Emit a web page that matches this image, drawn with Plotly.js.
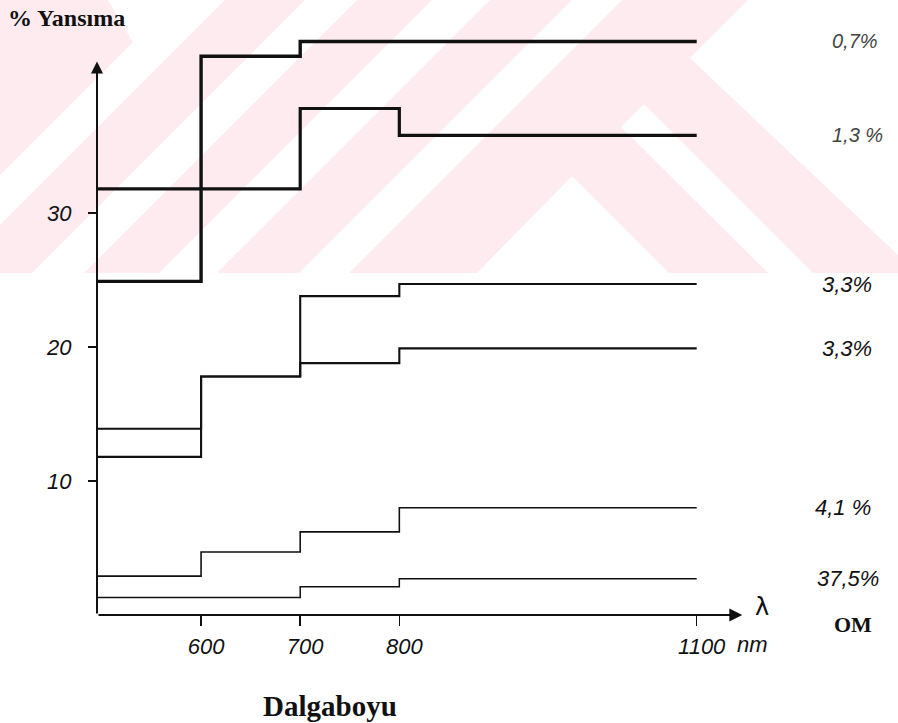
<!DOCTYPE html>
<html>
<head>
<meta charset="utf-8">
<script src="https://cdn.plot.ly/plotly-3.0.1.min.js"></script>
<style>html,body{margin:0;padding:0;background:#fff;}#chart{width:898px;height:723px;}</style>
</head>
<body>
<div id="chart"></div>
<script>
// ---- data ----
const wl07 = [495, 600, 700, 1100];
const r07  = [24.9, 41.7, 42.8, 42.8];
const wl13 = [495, 700, 800, 1100];
const r13  = [31.8, 37.8, 35.8, 35.8];
const wl33a = [495, 600, 700, 800, 1100];
const r33a  = [13.9, 17.8, 23.8, 24.7, 24.7];
const wl33b = [495, 600, 700, 800, 1100];
const r33b  = [11.8, 17.8, 18.8, 19.9, 19.9];
const wl41 = [495, 600, 700, 800, 1100];
const r41  = [2.9, 4.7, 6.2, 8.0, 8.0];
const wl375 = [495, 700, 800, 1100];
const r375  = [1.3, 2.1, 2.7, 2.7];
const seriesLabels = ['0,7%', '1,3 %', '3,3%', '3,3%', '4,1 %', '37,5%'];
const xTickVals = [600, 700, 800, 1100];
const xTickText = ['600', '700', '800', '1100'];
const yTickVals = [10, 20, 30];
const yTickText = ['10', '20', '30'];
const xAxisStart = 495, xAxisEnd = 1146, yAxisTop = 41.3;

// ---- styles ----
const seriesX = [wl07, wl13, wl33a, wl33b, wl41, wl375];
const seriesY = [r07, r13, r33a, r33b, r41, r375];
const lineWidths = [3.4, 3.2, 2.1, 2.1, 1.6, 1.5];
const labelPx = [830, 830, 820, 820, 813, 815];
const labelSize = [20, 20, 22, 22, 22, 22];
const labelColor = ['#444', '#444', '#111', '#111', '#111', '#111'];

const L = 97, W = 679, B = 615, H = 603;
function pp(x, y) { return [(x - L) / W, (B - y) / H]; }
function poly(pts) {
  return 'M' + pts.map(p => { const q = pp(p[0], p[1]); return q[0].toFixed(4) + ',' + q[1].toFixed(4); }).join(' L') + ' Z';
}

const traces = seriesX.map((xs, i) => ({
  x: xs, y: seriesY[i], type: 'scatter', mode: 'lines',
  line: {shape: 'hv', color: '#111', width: lineWidths[i]},
  hoverinfo: 'skip', showlegend: false
}));

const pink = 'rgb(253,235,239)';
const shapes = [
  {type: 'path', path: poly([[0,0],[898,0],[898,273],[0,273]]), fillcolor: pink},
  {type: 'path', path: poly([[108,0],[175,0],[150,72]]), fillcolor: '#fff'},
  {type: 'path', path: poly([[175,0],[225,0],[0,225],[0,175]]), fillcolor: '#fff'},
  {type: 'path', path: poly([[305,0],[357,0],[84,273],[32,273]]), fillcolor: '#fff'},
  {type: 'path', path: poly([[432,0],[490,0],[217,273],[159,273]]), fillcolor: '#fff'},
  {type: 'path', path: poly([[572,0],[622,0],[349,273],[299,273]]), fillcolor: '#fff'},
  {type: 'path', path: poly([[748,0],[898,0],[898,255],[690,58]]), fillcolor: '#fff'},
  {type: 'path', path: poly([[644,104],[813,273],[768,273],[621,127]]), fillcolor: '#fff'},
  {type: 'path', path: poly([[572,176],[669,273],[477,273]]), fillcolor: '#fff'}
].map(s => Object.assign(s, {xref: 'paper', yref: 'paper', layer: 'below', line: {width: 0}}));

const annotations = [];
// axis arrows
annotations.push({x: xAxisEnd, y: 0, ax: xAxisStart, ay: 0, xref: 'x', yref: 'y', axref: 'x', ayref: 'y',
  text: '', showarrow: true, arrowhead: 2, arrowsize: 1.3, arrowwidth: 2, arrowcolor: '#111', standoff: 0, startstandoff: 0});
annotations.push({x: xAxisStart, y: yAxisTop, ax: xAxisStart, ay: 0, xref: 'x', yref: 'y', axref: 'x', ayref: 'y',
  text: '', showarrow: true, arrowhead: 2, arrowsize: 1.2, arrowwidth: 2, arrowcolor: '#111', standoff: 0, startstandoff: 0});
// series labels
seriesLabels.forEach((t, i) => {
  const ys = seriesY[i];
  annotations.push({x: pp(labelPx[i], 0)[0], y: ys[ys.length - 1], xref: 'paper', yref: 'y',
    xanchor: 'left', yanchor: 'middle', text: t, showarrow: false,
    font: {family: 'Liberation Sans', size: labelSize[i], color: labelColor[i], style: 'italic'}});
});
function txt(text, px, py, font, xanchor) {
  const q = pp(px, py);
  annotations.push({x: q[0], y: q[1], xref: 'paper', yref: 'paper', text: text, showarrow: false,
    xanchor: xanchor || 'center', yanchor: 'middle', font: font});
}
const serif = '"Liberation Serif", "Times New Roman", serif';
txt('λ', 762, 607, {family: 'DejaVu Sans', size: 24, color: '#111'});
txt('nm', 752, 644, {family: 'Liberation Sans', size: 22, color: '#111', style: 'italic'});
txt('OM', 853, 624, {family: serif, size: 22, color: '#111', weight: 'bold'});
txt('% Yansıma', 6, 18, {family: serif, size: 24, color: '#111', weight: 'bold'}, 'left');
txt('Dalgaboyu', 330, 706, {family: serif, size: 29, color: '#111', weight: 'bold'});

const layout = {
  width: 898, height: 723,
  margin: {l: L, r: 898 - L - W, t: 12, b: 723 - B},
  paper_bgcolor: '#fff', plot_bgcolor: 'rgba(0,0,0,0)',
  showlegend: false, hovermode: false,
  xaxis: {range: [495, 1180], showgrid: false, zeroline: false, showline: false,
    tickmode: 'array', tickvals: xTickVals, ticktext: xTickText,
    ticks: 'outside', ticklen: 10, tickwidth: 1.5, tickcolor: '#111',
    ticklabelstandoff: 2, ticklabelshift: 5,
    tickfont: {family: 'Liberation Sans', size: 22, color: '#111', style: 'italic'}},
  yaxis: {range: [0, 45], showgrid: false, zeroline: false, showline: false,
    tickmode: 'array', tickvals: yTickVals, ticktext: yTickText,
    ticks: 'outside', ticklen: 8, tickwidth: 1.5, tickcolor: '#111',
    ticklabelstandoff: 12,
    tickfont: {family: 'Liberation Sans', size: 22, color: '#111', style: 'italic'}},
  shapes: shapes,
  annotations: annotations
};

Plotly.newPlot('chart', traces, layout, {staticPlot: true, displayModeBar: false});
</script>
</body>
</html>
